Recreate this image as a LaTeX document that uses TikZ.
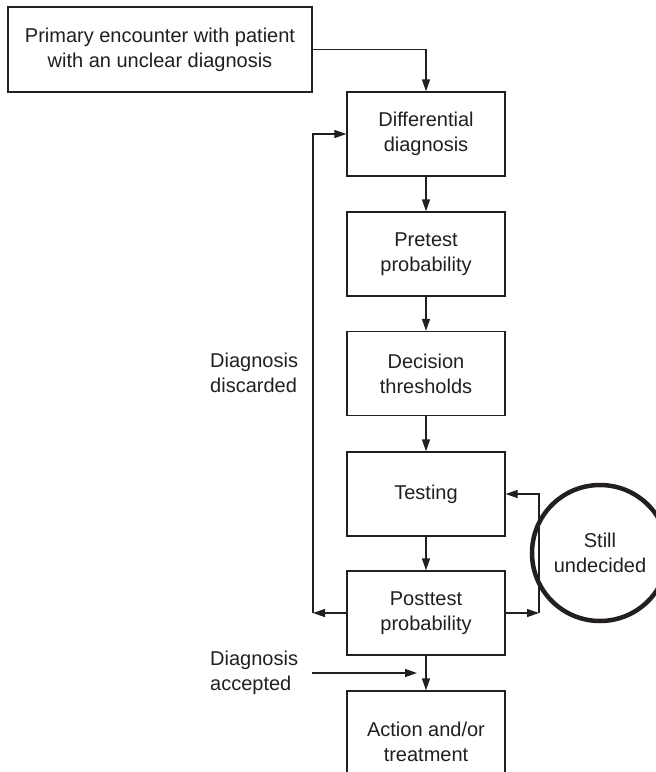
\documentclass[tikz,border=0pt]{standalone}
\usepackage{fontspec}
\setmainfont{Liberation Sans}
\usetikzlibrary{arrows.meta}
\definecolor{ink}{HTML}{231F20}
\begin{document}
\begin{tikzpicture}[x=1pt,y=-1pt,
  box/.style={draw=ink,line width=1.3pt,minimum width=158pt,minimum height=84pt,
    inner sep=0pt,align=center,font=\fontsize{20}{25}\selectfont,text=ink},
  arr/.style={draw=ink,line width=1.3pt,-{Triangle[length=12pt,width=8pt]}},
  lbl/.style={align=left,anchor=west,inner sep=0pt,font=\fontsize{20}{25}\selectfont,text=ink}]
\clip (0,0) rectangle (656,772);
\fill[white] (0,0) rectangle (656,772);

% main column of steps
\node[box,minimum width=304pt,minimum height=85pt] (prim) at (160,49.5)
  {Primary encounter with patient\\with an unclear diagnosis};
\node[box] (diff) at (426,134) {Differential\\diagnosis};
\node[box] (pre)  at (426,254) {Pretest\\probability};
\node[box] (dec)  at (426,373.5) {Decision\\thresholds};
\node[box] (test) at (426,494) {Testing};
\node[box] (post) at (426,613) {Posttest\\probability};
\node[box,minimum height=102pt] (act) at (426,742) {Action and/or\\treatment};

% loop state
\node[circle,draw=ink,line width=4.5pt,minimum size=136pt,inner sep=0pt,align=center,
  font=\fontsize{20}{25}\selectfont,text=ink] (still) at (600,553) {Still\\undecided};

% side labels
\node[lbl] (disc) at (210,373) {Diagnosis\\discarded};
\node[lbl] (acc)  at (210,673) {Diagnosis\\accepted};

% connectors
\draw[arr] (prim.east) -| (diff.north);
\draw[arr] (diff) -- (pre);
\draw[arr] (pre) -- (dec);
\draw[arr] (dec) -- (test);
\draw[arr] (test) -- (post);
\draw[arr] (post) -- (act);

\coordinate (lft) at (313,613);
\draw[arr] (post.west) -- (lft);
\draw[arr] (lft) |- (diff.west);

\coordinate (rgt) at (539,613);
\draw[arr] (post.east) -- (rgt);
\draw[arr] (rgt) |- (test.east);

\coordinate (accA) at (312,673);
\coordinate (accB) at (417,673);
\draw[arr] (accA) -- (accB);
\end{tikzpicture}
\end{document}
